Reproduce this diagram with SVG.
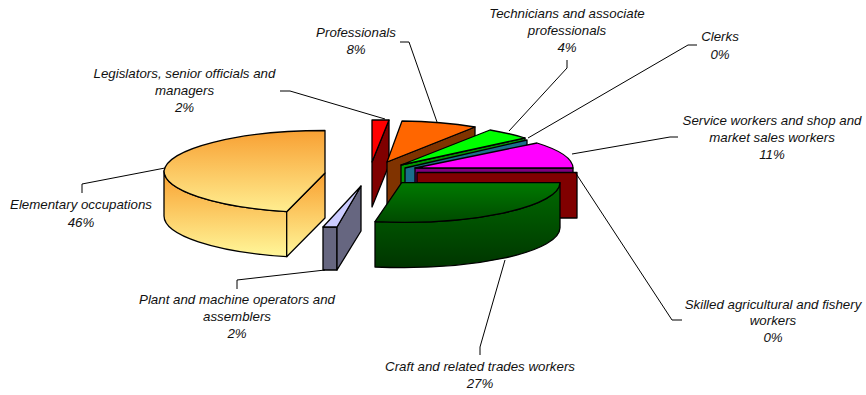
<svg xmlns="http://www.w3.org/2000/svg" width="866" height="395" viewBox="0 0 866 395">
<style>
.s{stroke:#000;stroke-width:1.3;stroke-linejoin:round}
.lbl{font-family:"Liberation Sans",Arial,sans-serif;font-style:italic;font-size:13.3px;fill:#111;text-anchor:middle}
.ld{fill:none;stroke:#000;stroke-width:1}
</style>
<defs>
<linearGradient id="gy" x1="0" y1="0" x2="0" y2="1">
<stop offset="0" stop-color="#F9A030"/>
<stop offset="1" stop-color="#FFF79A"/>
</linearGradient>
<linearGradient id="gyt" x1="0" y1="0" x2="0" y2="1">
<stop offset="0" stop-color="#F8A033"/>
<stop offset="1" stop-color="#FFEE90"/>
</linearGradient>
<linearGradient id="gct" x1="0" y1="0" x2="0" y2="1">
<stop offset="0" stop-color="#007A00"/>
<stop offset="1" stop-color="#004A00"/>
</linearGradient>
<linearGradient id="gcf" x1="0" y1="0" x2="0" y2="1">
<stop offset="0" stop-color="#006A00"/>
<stop offset="1" stop-color="#003500"/>
</linearGradient>
</defs>
<rect width="866" height="395" fill="#fff"/>

<g id="legislators">
<path class="s" d="M389,120 L389,165 L372,207 L372,162 Z" fill="#800000"/>
<path class="s" d="M372,120 L389,120 L372,162 Z" fill="#FF0000"/>
<text class="lbl" x="184.5" y="77.5">Legislators, senior officials and</text>
<text class="lbl" x="184.5" y="94.5">managers</text>
<text class="lbl" x="184.5" y="111.5">2%</text>
</g>

<g id="professionals">
<path class="s" d="M387,162 L475,127 L475,172 L387,207 Z" fill="#803300"/>
<path class="s" d="M387,162 L402,121 A150 40 0 0 1 475,127 Z" fill="#FF6600"/>
<text class="lbl" x="356" y="36.5">Professionals</text>
<text class="lbl" x="356" y="53.5">8%</text>
</g>

<g id="technicians">
<path class="s" d="M401,165 L525,138 L525,183 L401,210 Z" fill="#009900"/>
<path class="s" d="M401,165 L490,130 A158 40 0 0 1 525,138 Z" fill="#00FF00"/>
<text class="lbl" x="567" y="17.5">Technicians and associate</text>
<text class="lbl" x="567" y="35">professionals</text>
<text class="lbl" x="567" y="52">4%</text>
</g>

<g id="clerks">
<path class="s" d="M405,168 L527,140 L527,185 L405,213 Z" fill="#1A6E8C"/>
<text class="lbl" x="720" y="41">Clerks</text>
<text class="lbl" x="720" y="58.5">0%</text>
</g>

<g id="service">
<path class="s" d="M415,168 L573,168 L573,213 L415,213 Z" fill="#800080"/>
<path class="s" d="M415,168 L537,143 A158 40 0 0 1 573,168 Z" fill="#FF00FF"/>
<text class="lbl" x="772" y="125">Service workers and shop and</text>
<text class="lbl" x="772" y="142">market sales workers</text>
<text class="lbl" x="772" y="159">11%</text>
</g>

<g id="skilled">
<path class="s" d="M417,172.5 L577,172.5 L577,218 L417,218 Z" fill="#800000"/>
<text class="lbl" x="773" y="308.5">Skilled agricultural and fishery</text>
<text class="lbl" x="773" y="325">workers</text>
<text class="lbl" x="773" y="342">0%</text>
</g>

<g id="craft">
<path class="s" d="M560,182.7 A158 40 0 0 1 375,221.7 L375,267 A158 40 0 0 0 560,227.7 Z" fill="url(#gcf)"/>
<path class="s" d="M401.7,182.7 L560,182.7 A158 40 0 0 1 375,221.7 Z" fill="url(#gct)"/>
<text class="lbl" x="480" y="370.5">Craft and related trades workers</text>
<text class="lbl" x="480" y="387.5">27%</text>
</g>

<g id="plant">
<path class="s" d="M323,227 L337,227 L337,270 L323,270 Z" fill="#666680"/>
<path class="s" d="M337,227 L361,186 L361,231 L337,270 Z" fill="#666680"/>
<path class="s" d="M323,227 L337,227 L361,186 Z" fill="#CCCCFF"/>
<text class="lbl" x="237" y="304">Plant and machine operators and</text>
<text class="lbl" x="237" y="321">assemblers</text>
<text class="lbl" x="237" y="338">2%</text>
</g>

<g id="elementary">
<path class="s" d="M164,171 A161 42 0 0 0 286.7,211.7 L286.7,256.7 A161 42 0 0 1 164,216 Z" fill="url(#gy)"/>
<path class="s" d="M325,173 L286.7,211.7 L286.7,256.7 L325,218 Z" fill="url(#gy)"/>
<path class="s" d="M325,173 L325,130.5 A161 42 0 0 0 164,171 A161 42 0 0 0 286.7,211.7 Z" fill="url(#gyt)"/>
<text class="lbl" x="81" y="209">Elementary occupations</text>
<text class="lbl" x="81" y="226.5">46%</text>
</g>

<g id="connectors">
<path class="ld" d="M280,91 L290,91 L385,119"/>
<path class="ld" d="M400,42 L409,42 L437,122"/>
<path class="ld" d="M567,60 L567,68 L509,131"/>
<path class="ld" d="M697,45 L688,45 L528,138"/>
<path class="ld" d="M678,137 L670,137 L572,154"/>
<path class="ld" d="M575,172 L672,320 L682,320"/>
<path class="ld" d="M480,355 L480,347 L505,260"/>
<path class="ld" d="M237,289 L237,280 L325,270"/>
<path class="ld" d="M82,193 L82,184 L165,168"/>
</g>
</svg>
